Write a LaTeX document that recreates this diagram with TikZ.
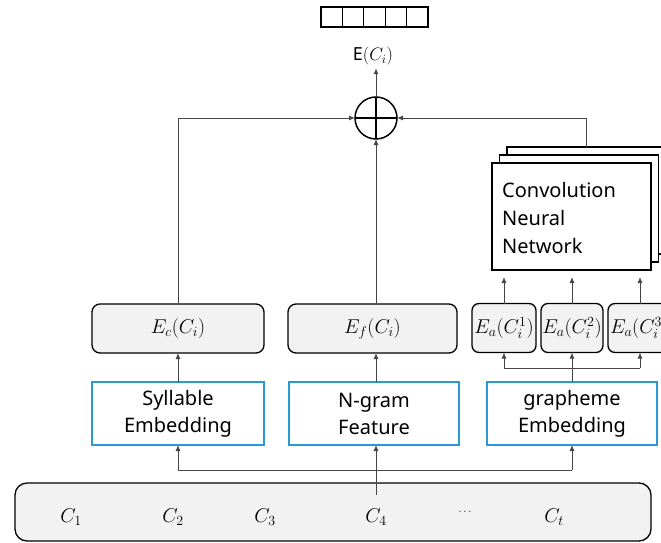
\RequirePackage{fix-cm}
\documentclass[tikz,border=0pt]{standalone}
\usepackage{fontspec}
\setmainfont{Noto Sans}
\usetikzlibrary{arrows.meta,calc}
\definecolor{boxgray}{RGB}{242,242,242}
\definecolor{bblue}{RGB}{40,155,215}
\definecolor{lgray}{RGB}{70,70,70}
\tikzset{
  gbox/.style={draw=black, line width=1.3pt, fill=boxgray, rounded corners=8pt, minimum height=49pt, inner sep=0pt, outer sep=0pt, font=\fontsize{20}{24}\selectfont},
  bbox/.style={draw=bblue, line width=1.5pt, fill=white, minimum height=63pt, align=center, font=\fontsize{20}{27}\selectfont, inner sep=0pt, outer sep=0pt},
  arr/.style={-{Latex[length=6pt,width=5pt]}, draw=lgray, line width=1pt},
  ln/.style={draw=lgray, line width=1pt},
  cnnbox/.style={draw=black, line width=1.8pt, fill=white, minimum width=159pt, minimum height=107pt, inner sep=0pt, outer sep=0pt},
  cell/.style={draw=black, line width=1.2pt, minimum width=21.4pt, minimum height=20pt, inner sep=0pt, outer sep=0pt},
  lab/.style={font=\fontsize{20}{24}\selectfont, inner sep=0pt}
}
\begin{document}
\begin{tikzpicture}[x=1pt,y=-1pt]
\useasboundingbox (0,0) rectangle (661,543);
\clip (0,0) rectangle (661,543);
% top vector
\foreach \i in {0,...,4} {
  \node[cell] (cell\i) at (331.7+21.4*\i,17) {};
}
\node[font=\fontsize{18}{21}\selectfont, inner sep=1pt] (E) at (373,56) {E$(C_i)$};
% sum
\node[circle, draw=black, line width=1.5pt, minimum size=42pt, inner sep=0pt, outer sep=0pt] (plus) at (376,118) {};
\draw[line width=1.3pt] (plus.north) -- (plus.south);
\draw[line width=1.3pt] (plus.west) -- (plus.east);
% CNN stack
\node[cnnbox] (cnn3) at (586.5,200.5) {};
\node[cnnbox] (cnn2) at (579,208.5) {};
\node[cnnbox] (cnn) at (571.5,216.5) {};
\node[anchor=west, align=left, font=\fontsize{20}{28}\selectfont, inner sep=0pt] (cnntxt) at (502,218) {Convolution\\Neural\\Network};
% embedding boxes
\node[gbox, minimum width=172pt] (ec) at (178,328.5) {$E_c(C_i)$};
\node[gbox, minimum width=169pt] (ef) at (372.5,328.5) {$E_f(C_i)$};
\node[gbox, minimum width=64pt, rounded corners=7pt] (ea1) at (504,328) {$E_a(C_i^1)$};
\node[gbox, minimum width=62pt, rounded corners=7pt] (ea2) at (572,328) {$E_a(C_i^2)$};
\node[gbox, minimum width=64pt, rounded corners=7pt, anchor=west] (ea3) at (608,328) {\hspace*{2pt}$E_a(C_i^3)$\hspace*{6pt}};
% blue boxes
\node[bbox, minimum width=172pt] (syl) at (178,413.5) {Syllable\\Embedding};
\node[bbox, minimum width=170pt] (ng) at (374,413.5) {N-gram\\Feature};
\node[bbox, minimum width=170pt] (gr) at (572,413.5) {grapheme\\Embedding};
% input sequence
\node[draw=black, line width=1.3pt, fill=boxgray, rounded corners=12pt, minimum width=636pt, minimum height=58pt, inner sep=0pt, outer sep=0pt] (seq) at (333,512) {};
\node[lab] (c1) at (71,517) {$C_1$};
\node[lab] (c2) at (173,517) {$C_2$};
\node[lab] (c3) at (265,517) {$C_3$};
\node[lab] (c4) at (376,517) {$C_4$};
\node[font=\fontsize{11}{12}\selectfont, inner sep=0pt] (cd) at (465,512) {$\cdots$};
\node[lab] (ct) at (554,517) {$C_t$};
% connectors top
\draw[arr, shorten >=2pt] (plus.north) -- (plus.north |- E.south);
\draw[arr] (ec.north) |- (plus.west);
\draw[arr] (ef.north -| plus) -- (plus.south);
\draw[arr] (cnn3.north) |- (plus.east);
% Ea -> CNN
\coordinate (ea3top) at (640,304);
\draw[arr, shorten >=7pt] (ea1.north) -- (ea1.north |- cnn.south);
\draw[arr, shorten >=7pt] (ea2.north) -- (ea2.north |- cnn.south);
\draw[arr, shorten >=7pt] (ea3top) -- (ea3top |- cnn.south);
% grapheme -> Ea
\coordinate (gj) at (572,368);
\draw[arr] (gr.north) -- (ea2.south);
\draw[ln] (gj -| ea1) -- (gj -| ea3top);
\draw[arr] (gj -| ea1) -- (ea1.south);
\draw[arr] (gj -| ea3top) -- (ea3top |- ea3.south);
% blue -> gray
\draw[arr] (syl.north) -- (ec.south);
\coordinate (ngt) at ($(ng.north)+(2,0)$);
\draw[arr] (ngt) -- (ngt |- ef.south);
% bottom
\coordinate (hb) at (376,470);
\coordinate (c4top) at (376,495);
\draw[arr] (c4top) -- (c4top |- ng.south);
\draw[ln] (hb -| syl) -- (hb -| gr);
\draw[arr] (hb -| syl) -- (syl.south);
\draw[arr] (hb -| gr) -- (gr.south);
\end{tikzpicture}
\end{document}
